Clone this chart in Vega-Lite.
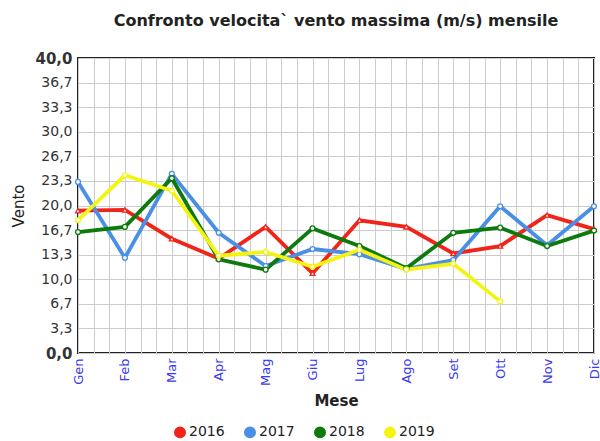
{
  "$schema": "https://vega.github.io/schema/vega-lite/v6.json",
  "autosize": {"type": "none"},
  "width": 516,
  "height": 295,
  "padding": {"left": 78, "top": 58, "right": 6, "bottom": 88},
  "background": "#ffffff",
  "title": {
    "text": "Confronto velocita` vento massima (m/s) mensile",
    "font": "DejaVu Sans",
    "fontSize": 16,
    "fontWeight": "bold",
    "color": "#222222",
    "offset": 22,
    "anchor": "middle"
  },
  "config": {
    "view": {"stroke": "#222222", "strokeWidth": 2},
    "font": "DejaVu Sans"
  },
  "data": {
    "values": [
      {"anno": "2016", "m": 0, "v": 19.3}, {"anno": "2016", "m": 1, "v": 19.4}, {"anno": "2016", "m": 2, "v": 15.5}, {"anno": "2016", "m": 3, "v": 12.8},
      {"anno": "2016", "m": 4, "v": 17.1}, {"anno": "2016", "m": 5, "v": 10.8}, {"anno": "2016", "m": 6, "v": 18.0}, {"anno": "2016", "m": 7, "v": 17.1},
      {"anno": "2016", "m": 8, "v": 13.5}, {"anno": "2016", "m": 9, "v": 14.5}, {"anno": "2016", "m": 10, "v": 18.7}, {"anno": "2016", "m": 11, "v": 16.8},
      {"anno": "2017", "m": 0, "v": 23.2}, {"anno": "2017", "m": 1, "v": 12.9}, {"anno": "2017", "m": 2, "v": 24.3}, {"anno": "2017", "m": 3, "v": 16.3},
      {"anno": "2017", "m": 4, "v": 11.8}, {"anno": "2017", "m": 5, "v": 14.1}, {"anno": "2017", "m": 6, "v": 13.4}, {"anno": "2017", "m": 7, "v": 11.4},
      {"anno": "2017", "m": 8, "v": 12.6}, {"anno": "2017", "m": 9, "v": 19.9}, {"anno": "2017", "m": 10, "v": 14.6}, {"anno": "2017", "m": 11, "v": 19.9},
      {"anno": "2018", "m": 0, "v": 16.4}, {"anno": "2018", "m": 1, "v": 17.1}, {"anno": "2018", "m": 2, "v": 23.7}, {"anno": "2018", "m": 3, "v": 12.7},
      {"anno": "2018", "m": 4, "v": 11.3}, {"anno": "2018", "m": 5, "v": 16.9}, {"anno": "2018", "m": 6, "v": 14.5}, {"anno": "2018", "m": 7, "v": 11.5},
      {"anno": "2018", "m": 8, "v": 16.3}, {"anno": "2018", "m": 9, "v": 17.0}, {"anno": "2018", "m": 10, "v": 14.5}, {"anno": "2018", "m": 11, "v": 16.6},
      {"anno": "2019", "m": 0, "v": 18.0}, {"anno": "2019", "m": 1, "v": 24.1}, {"anno": "2019", "m": 2, "v": 22.0}, {"anno": "2019", "m": 3, "v": 13.2},
      {"anno": "2019", "m": 4, "v": 13.7}, {"anno": "2019", "m": 5, "v": 11.7}, {"anno": "2019", "m": 6, "v": 14.0}, {"anno": "2019", "m": 7, "v": 11.3},
      {"anno": "2019", "m": 8, "v": 12.1}, {"anno": "2019", "m": 9, "v": 7.0}
    ]
  },
  "encoding": {
    "x": {
      "field": "m",
      "type": "quantitative",
      "scale": {"domain": [0, 11], "nice": false, "zero": false},
      "axis": {
        "title": "Mese",
        "titleFont": "DejaVu Sans",
        "titleFontSize": 15,
        "titleFontWeight": "bold",
        "titleColor": "#222222",
        "titlePadding": 8,
        "values": [0, 0.3333, 0.6667, 1, 1.3333, 1.6667, 2, 2.3333, 2.6667, 3, 3.3333, 3.6667, 4, 4.3333, 4.6667, 5, 5.3333, 5.6667, 6, 6.3333, 6.6667, 7, 7.3333, 7.6667, 8, 8.3333, 8.6667, 9, 9.3333, 9.6667, 10, 10.3333, 10.6667, 11],
        "labelExpr": "abs(datum.value - round(datum.value)) < 0.01 ? ['Gen','Feb','Mar','Apr','Mag','Giu','Lug','Ago','Set','Ott','Nov','Dic'][round(datum.value)] : ''",
        "labelAngle": -90,
        "labelFontSize": 13,
        "labelColor": "#3a3af0",
        "labelOverlap": false,
        "labelFlush": false,
        "labelPadding": 5,
        "ticks": false,
        "domain": false,
        "grid": true,
        "gridColor": "#cccccc",
        "gridWidth": 1
      }
    },
    "y": {
      "field": "v",
      "type": "quantitative",
      "scale": {"domain": [0, 40], "nice": false},
      "axis": {
        "title": "Vento",
        "titleFont": "DejaVu Sans",
        "titleFontSize": 15,
        "titleFontWeight": "normal",
        "titleColor": "#222222",
        "titlePadding": 8,
        "values": [0, 3.3333, 6.6667, 10, 13.3333, 16.6667, 20, 23.3333, 26.6667, 30, 33.3333, 36.6667, 40],
        "labelExpr": "replace(format(datum.value, '.1f'), '.', ',')",
        "labelFontSize": {"condition": {"test": "datum.value == 0 || datum.value == 40", "value": 15}, "value": 14},
        "labelFontWeight": {"condition": {"test": "datum.value == 0 || datum.value == 40", "value": "bold"}, "value": "normal"},
        "labelColor": "#333333",
        "labelPadding": 6,
        "ticks": false,
        "domain": false,
        "grid": true,
        "gridColor": "#cccccc",
        "gridWidth": 1
      }
    },
    "color": {
      "field": "anno",
      "type": "nominal",
      "scale": {"domain": ["2016", "2017", "2018", "2019"], "range": ["#f02418", "#4a8fe6", "#0c7a0c", "#f4f414"]},
      "legend": {
        "title": null,
        "orient": "none",
        "direction": "horizontal",
        "legendX": 95,
        "legendY": 367,
        "symbolType": "circle",
        "symbolSize": 110,
        "labelFontSize": 14,
        "labelColor": "#222222",
        "labelOffset": 2,
        "columnPadding": 16,
        "encode": {
          "symbols": {"update": {"fill": {"scale": "color", "field": "value"}, "stroke": {"value": "transparent"}, "opacity": {"value": 1}}}
        }
      }
    }
  },
  "layer": [
    {
      "mark": {"type": "line", "strokeWidth": 3.8}
    },
    {
      "transform": [{"filter": "datum.anno == '2016'"}],
      "mark": {"type": "point", "shape": "triangle-up", "filled": false, "fill": "#ffffff", "fillOpacity": 1, "opacity": 1, "size": 24, "strokeWidth": 1.3}
    },
    {
      "transform": [{"filter": "datum.anno != '2016'"}],
      "mark": {"type": "point", "shape": "circle", "filled": false, "fill": "#ffffff", "fillOpacity": 1, "opacity": 1, "size": 24, "strokeWidth": 1.3}
    }
  ]
}
